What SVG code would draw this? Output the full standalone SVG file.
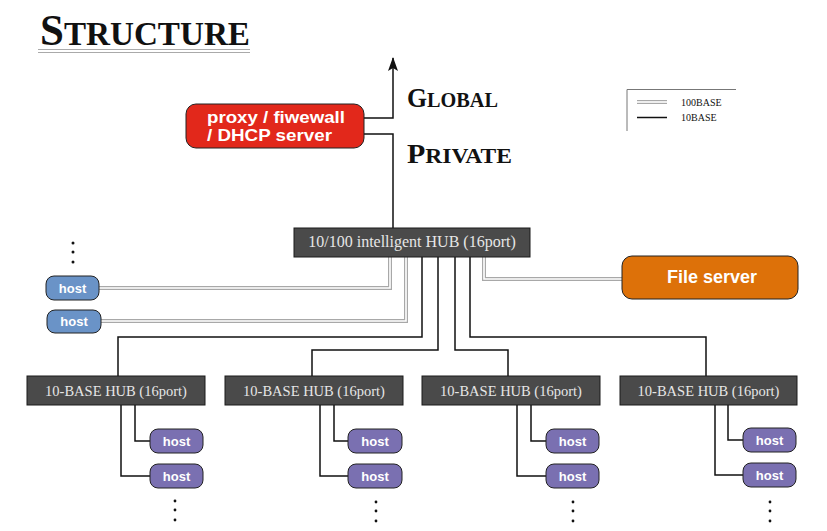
<svg xmlns="http://www.w3.org/2000/svg" width="827" height="531" viewBox="0 0 827 531">
<style>
.title{font-family:"Liberation Serif",serif;font-weight:bold;fill:#111}
.hub rect{fill:#4a4a4a;stroke:#1a1a1a;stroke-width:1}
.hub text{font-family:"Liberation Serif",serif;fill:#e6e6e6;text-anchor:middle}
.node text{font-family:"Liberation Sans",Arial,sans-serif;font-weight:bold;fill:#fff}
.node rect{stroke:#222;stroke-width:1}
.blue rect{fill:#6a93c7}
.purple rect{fill:#7a70b1}
.host text{font-size:13px;text-anchor:middle}
.b{fill:none;stroke:#111;stroke-width:1.5}
.d1{fill:none;stroke:#a8a8a8;stroke-width:4}
.d2{fill:none;stroke:#fff;stroke-width:1.6}
.dot{fill:#111}
.leg{font-family:"Liberation Serif",serif;font-size:10px;fill:#111}
</style>
<defs>
<marker id="arr" markerWidth="14" markerHeight="10" refX="13" refY="5" orient="auto" markerUnits="userSpaceOnUse" viewBox="0 0 14 10">
<path d="M0,0 L14,5 L0,10 L3,5 Z" fill="#111"/>
</marker>
</defs>
<rect width="827" height="531" fill="#fff"/>

<!-- title -->
<text class="title" x="40" y="45" textLength="210" lengthAdjust="spacingAndGlyphs"><tspan font-size="44">S</tspan><tspan font-size="34">TRUCTURE</tspan></text>
<line x1="38" y1="49.5" x2="250" y2="49.5" stroke="#aaa" stroke-width="1"/>
<line x1="38" y1="52.5" x2="250" y2="52.5" stroke="#aaa" stroke-width="1"/>
<text class="title" x="407" y="107" textLength="91" lengthAdjust="spacingAndGlyphs"><tspan font-size="28">G</tspan><tspan font-size="22">LOBAL</tspan></text>
<text class="title" x="407" y="163" textLength="105" lengthAdjust="spacingAndGlyphs"><tspan font-size="28">P</tspan><tspan font-size="22">RIVATE</tspan></text>

<!-- legend -->
<g id="legend">
<path d="M627,131 V89.5 H736" fill="none" stroke="#777" stroke-width="1"/>
<line x1="637" y1="102" x2="667" y2="102" class="d1" stroke-width="3.5"/>
<line x1="637" y1="102" x2="667" y2="102" class="d2" stroke-width="1.4"/>
<text class="leg" x="681" y="106">100BASE</text>
<line x1="637" y1="117.5" x2="667" y2="117.5" stroke="#111" stroke-width="1.5"/>
<text class="leg" x="681" y="121">10BASE</text>
</g>

<!-- connectors -->
<g id="connectors">
<path class="b" d="M364,118 H393 V58" marker-end="url(#arr)"/>
<path class="b" d="M364,134 H393 V228"/>
<!-- 100BASE double lines -->
<path class="d1" d="M390,257 V288 H99"/>
<path class="d2" d="M390,257 V288 H99"/>
<path class="d1" d="M406,257 V321 H101"/>
<path class="d2" d="M406,257 V321 H101"/>
<path class="d1" d="M484,257 V279 H622"/>
<path class="d2" d="M484,257 V279 H622"/>
<!-- 10BASE -->
<path class="b" d="M422,257 V337 H118 V376"/>
<path class="b" d="M438,257 V350 H312 V376"/>
<path class="b" d="M455,257 V350 H508 V376"/>
<path class="b" d="M470,257 V337 H706 V376"/>
<!-- hub to hosts -->
<path class="b" d="M135,405 V441 H150"/>
<path class="b" d="M121,405 V476 H150"/>
<path class="b" d="M334,405 V441 H348"/>
<path class="b" d="M320,405 V476 H348"/>
<path class="b" d="M531,405 V441 H546"/>
<path class="b" d="M517,405 V476 H546"/>
<path class="b" d="M728,405 V440 H743"/>
<path class="b" d="M715,405 V475 H743"/>
</g>

<!-- proxy -->
<g id="proxy" class="node">
<rect x="186" y="104" width="178" height="44" rx="10" fill="#e2281b"/>
<text x="207" y="123" font-size="17" textLength="138" lengthAdjust="spacingAndGlyphs">proxy / fiwewall</text>
<text x="207" y="141" font-size="17" textLength="125" lengthAdjust="spacingAndGlyphs">/ DHCP server</text>
</g>

<!-- main hub -->
<g id="mainhub" class="hub">
<rect x="294" y="228" width="236" height="29"/>
<text x="412" y="247" font-size="16">10/100 intelligent HUB (16port)</text>
</g>

<!-- file server -->
<g id="fileserver" class="node">
<rect x="622" y="256" width="176" height="43" rx="10" fill="#dd7109"/>
<text x="712" y="283" font-size="18" text-anchor="middle">File server</text>
</g>

<!-- blue hosts -->
<g class="dot" id="dots-top">
<circle cx="73" cy="243" r="1.5"/><circle cx="73" cy="252" r="1.5"/><circle cx="73" cy="262" r="1.5"/>
</g>
<g id="host-b1" class="node host blue">
<rect x="46" y="276" width="53" height="24" rx="8"/>
<text x="72.5" y="293">host</text>
</g>
<g id="host-b2" class="node host blue">
<rect x="47" y="310" width="54" height="23" rx="8"/>
<text x="74" y="326">host</text>
</g>

<!-- 10-BASE hubs -->
<g id="hub1" class="hub"><rect x="27" y="376" width="178" height="29"/><text x="116" y="396" font-size="14.5">10-BASE HUB (16port)</text></g>
<g id="hub2" class="hub"><rect x="225" y="376" width="178" height="29"/><text x="314" y="396" font-size="14.5">10-BASE HUB (16port)</text></g>
<g id="hub3" class="hub"><rect x="422" y="376" width="178" height="29"/><text x="511" y="396" font-size="14.5">10-BASE HUB (16port)</text></g>
<g id="hub4" class="hub"><rect x="620" y="376" width="177" height="29"/><text x="708.5" y="396" font-size="14.5">10-BASE HUB (16port)</text></g>

<!-- purple hosts -->
<g id="host-1a" class="node host purple"><rect x="150" y="429" width="53" height="24" rx="8"/><text x="176.5" y="446">host</text></g>
<g id="host-1b" class="node host purple"><rect x="150" y="464" width="53" height="24" rx="8"/><text x="176.5" y="481">host</text></g>
<g id="host-2a" class="node host purple"><rect x="348" y="429" width="54" height="24" rx="8"/><text x="375" y="446">host</text></g>
<g id="host-2b" class="node host purple"><rect x="348" y="464" width="54" height="24" rx="8"/><text x="375" y="481">host</text></g>
<g id="host-3a" class="node host purple"><rect x="546" y="429" width="53" height="24" rx="8"/><text x="572.5" y="446">host</text></g>
<g id="host-3b" class="node host purple"><rect x="546" y="464" width="53" height="24" rx="8"/><text x="572.5" y="481">host</text></g>
<g id="host-4a" class="node host purple"><rect x="743" y="428" width="53" height="24" rx="8"/><text x="769.5" y="445">host</text></g>
<g id="host-4b" class="node host purple"><rect x="743" y="463" width="53" height="24" rx="8"/><text x="769.5" y="480">host</text></g>

<g class="dot" id="dots-bottom">
<circle cx="175" cy="501" r="1.4"/><circle cx="175" cy="510" r="1.4"/><circle cx="175" cy="520" r="1.4"/>
<circle cx="376" cy="502" r="1.4"/><circle cx="376" cy="511" r="1.4"/><circle cx="376" cy="521" r="1.4"/>
<circle cx="573" cy="502" r="1.4"/><circle cx="573" cy="511" r="1.4"/><circle cx="573" cy="521" r="1.4"/>
<circle cx="770" cy="502" r="1.4"/><circle cx="770" cy="511" r="1.4"/><circle cx="770" cy="521" r="1.4"/>
</g>
</svg>
